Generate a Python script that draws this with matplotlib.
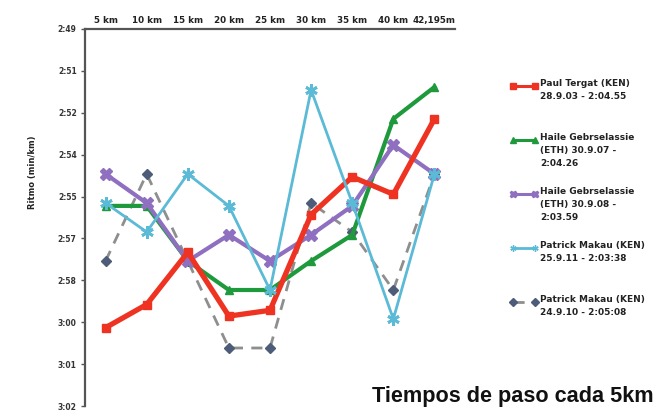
import numpy as np
import matplotlib
matplotlib.use("Agg")
import matplotlib.pyplot as plt
from matplotlib.legend_handler import HandlerLine2D

# ---- data -------------------------------------------------------------
categories = ["5 km", "10 km", "15 km", "20 km", "25 km", "30 km", "35 km", "40 km", "42,195m"]

# pace in seconds per km (169 s = 2:49)
tergat_2003 = [179.3, 178.5, 176.7, 178.9, 178.7, 175.4, 174.1, 174.7, 172.1]
gebre_2007 = [175.1, 175.1, 177.0, 178.0, 178.0, 177.0, 176.1, 172.1, 171.0]
gebre_2008 = [174.0, 175.0, 177.0, 176.1, 177.0, 176.1, 175.1, 173.0, 174.0]
makau_2011 = [175.0, 176.0, 174.0, 175.1, 178.0, 171.1, 175.0, 179.0, 174.0]
makau_2010 = [177.0, 174.0, 177.0, 180.0, 180.0, 175.0, 176.0, 178.0, 174.0]

labels = [
    "Paul Tergat (KEN)\n28.9.03 - 2:04.55",
    "Haile Gebrselassie\n(ETH) 30.9.07 -\n2:04.26",
    "Haile Gebrselassie\n(ETH) 30.9.08 -\n2:03.59",
    "Patrick Makau (KEN)\n25.9.11 - 2:03:38",
    "Patrick Makau (KEN)\n24.9.10 - 2:05:08",
]

y_tick_labels = ["2:49", "2:51", "2:52", "2:54", "2:55", "2:57", "2:58", "3:00", "3:01", "3:02"]
y_min, y_max = 169, 182

title = "Tiempos de paso cada 5km"
y_label = "Ritmo (min/km)"

# ---- styling ----------------------------------------------------------
NARROW = ["Liberation Sans Narrow", "DejaVu Sans"]
LEG_FS = 6.5
LEG_LS = 1.6

fig = plt.figure(figsize=(6.54, 4.12), dpi=100)
ax = fig.add_axes([85 / 654, 1 - 406 / 412, 370 / 654, 377 / 412])

x = np.arange(len(categories))

series = [
    dict(y=tergat_2003, color="#ee3322", lw=3.8, marker="s", ms=6, ls="-", mfc="#ee3322", mec="#ee3322", z=5),
    dict(y=gebre_2007, color="#1e9a3c", lw=3.0, marker="^", ms=6, ls="-", mfc="#1e9a3c", mec="#1e9a3c", z=4),
    dict(y=gebre_2008, color="#8f6fc0", lw=3.0, marker="X", ms=8, ls="-", mfc="#8f6fc0", mec="#8f6fc0", z=4),
    dict(y=makau_2011, color="#5bbad6", lw=2.0, marker=(6, 2, 0), ms=9, ls="-", mfc="#5bbad6", mec="#5bbad6", z=6),
    dict(y=makau_2010, color="#8e8e8e", lw=2.0, marker="D", ms=5, ls=(0, (4, 3)), mfc="#4d5c78", mec="#4d5c78", z=3),
]

handles = []
for s, lab in zip(series, labels):
    h, = ax.plot(x, s["y"], color=s["color"], lw=s["lw"], ls=s["ls"], marker=s["marker"],
                 ms=s["ms"], mfc=s["mfc"], mec=s["mec"], mew=2 if s["marker"] == (6, 2, 0) else 1,
                 zorder=s["z"], label=lab, solid_joinstyle="round", dash_capstyle="butt")
    handles.append(h)

ax.set_xlim(-0.5, len(categories) - 0.5)
ax.set_ylim(y_max, y_min)
ax.set_yticks(np.linspace(y_min, y_max, len(y_tick_labels)))
ax.set_yticklabels(y_tick_labels)
ax.set_xticks(x)
ax.set_xticklabels(categories)
ax.xaxis.tick_top()
ax.tick_params(axis="x", length=0, pad=3, labelsize=6.3, labelcolor="#222222")
ax.tick_params(axis="y", length=3, width=1, color="#555555", pad=3, labelsize=5.5, labelcolor="#333333")
for t in ax.get_xticklabels():
    t.set_fontweight("bold")
    t.set_family(NARROW)
for t in ax.get_yticklabels():
    t.set_family(NARROW)
    t.set_fontweight("bold")

for side in ["right", "bottom"]:
    ax.spines[side].set_visible(False)
for side in ["left", "top"]:
    ax.spines[side].set_color("#555555")
    ax.spines[side].set_linewidth(1.6)

ax.set_ylabel(y_label, fontsize=6, fontweight="bold", family=NARROW, color="#222222")
ax.yaxis.set_label_coords(-0.13, 0.62)


class FirstLineHandler(HandlerLine2D):
    def __init__(self, nlines, **kw):
        super().__init__(**kw)
        self.nlines = nlines

    def create_artists(self, legend, orig_handle, xdescent, ydescent, width, height, fontsize, trans):
        arts = super().create_artists(legend, orig_handle, xdescent, ydescent, width, height, fontsize, trans)
        off = (self.nlines - 1) / 2 * LEG_LS * 0.76 * fontsize
        for a in arts:
            a.set_ydata(np.asarray(a.get_ydata(), dtype=float) + off)
        return arts


# legend labels padded to three lines so entries are evenly spaced
padded = [lab if lab.count("\n") >= 2 else lab + "\n " for lab in labels]
leg_handles = []
for h, s in zip(handles, series):
    lh = matplotlib.lines.Line2D([], [], color=s["color"], lw=min(s["lw"], 2.2), ls=s["ls"],
                                 marker=s["marker"], ms=4.5, mfc=s["mfc"], mec=s["mec"])
    leg_handles.append(lh)
leg = fig.legend(leg_handles, padded, loc="upper left", bbox_to_anchor=(510 / 654, 1 - 79 / 412),
                 frameon=False, prop=dict(family=NARROW, weight="bold", size=LEG_FS),
                 handlelength=3.1, handletextpad=0.25, labelspacing=2.05, borderpad=0, borderaxespad=0,
                 handler_map={lh: FirstLineHandler(3, numpoints=2) for lh in leg_handles})
for t in leg.get_texts():
    t.set_linespacing(LEG_LS)
    t.set_color("#222222")

fig.text(372 / 654, 1 - 402 / 412, title, fontsize=15.6, fontweight="bold",
         family=["Liberation Sans", "DejaVu Sans"], color="#111111", va="baseline", ha="left")

fig.savefig("out.png", dpi=100)
